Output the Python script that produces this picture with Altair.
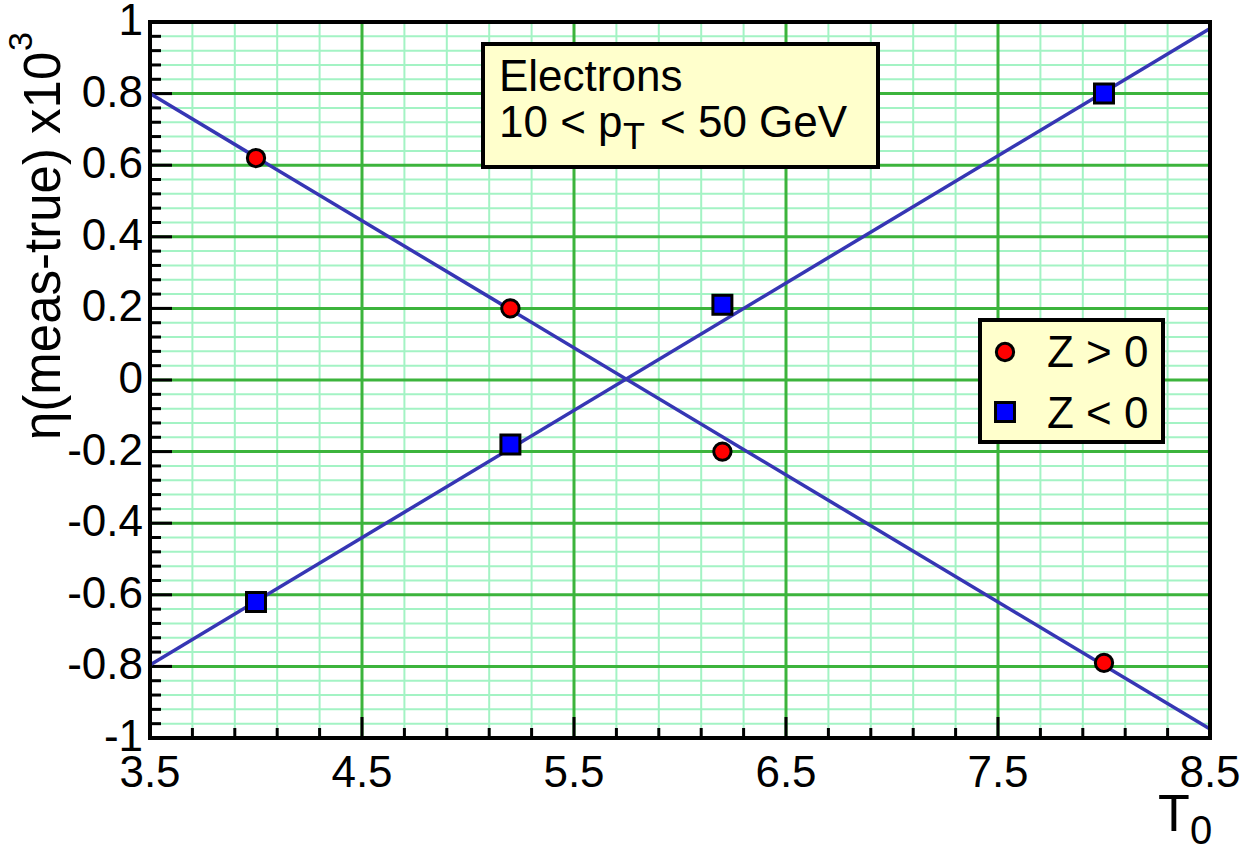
import altair as alt
import pandas as pd

FONT = "Liberation Sans"

# Measured offsets for the two z-hemispheres as a function of T0
T0 = [4.0, 5.2, 6.2, 8.0]
ETA_ZPOS = [0.62, 0.20, -0.20, -0.79]
ETA_ZNEG = [-0.62, -0.18, 0.21, 0.80]

# Straight-line fits, evaluated at the ends of the T0 range
FIT_T0 = [3.5, 8.5]
FIT_ZPOS = [0.80, -0.975]
FIT_ZNEG = [-0.796, 0.982]

X_LABELS = [3.5, 4.5, 5.5, 6.5, 7.5, 8.5]
Y_LABELS = [-1, -0.8, -0.6, -0.4, -0.2, 0, 0.2, 0.4, 0.6, 0.8, 1]

W, H = 1060, 716

MINOR_GRID = "#a3f3c4"
MAJOR_GRID = "#3cb43c"
FIT_COLOR = "#3636b4"
BOX_FILL = "#ffffcc"

# grid / tick positions
x_major = [4.5, 5.5, 6.5, 7.5]
x_minor = [round(3.5 + 0.2 * i, 2) for i in range(1, 25) if i % 5 != 0]
y_major = [-0.8, -0.6, -0.4, -0.2, 0, 0.2, 0.4, 0.6, 0.8]
y_minor = [round(-1 + 0.04 * i, 2) for i in range(1, 50) if i % 5 != 0]

xs = alt.Scale(domain=[3.5, 8.5], nice=False, zero=False)
ys = alt.Scale(domain=[-1, 1], nice=False, zero=False)

one = alt.InlineData(values=[{}])


def vals(v):
    return pd.DataFrame({"v": v, "txt": [f"{x:g}" for x in v]})


def vgrid(v, color, width):
    return alt.Chart(vals(v)).mark_rule(color=color, strokeWidth=width).encode(
        x=alt.X("v:Q", scale=xs, axis=None)
    )


def hgrid(v, color, width):
    return alt.Chart(vals(v)).mark_rule(color=color, strokeWidth=width).encode(
        y=alt.Y("v:Q", scale=ys, axis=None)
    )


def xticks(v, length):
    return alt.Chart(vals(v)).mark_rule(color="black", strokeWidth=3).encode(
        x=alt.X("v:Q", scale=xs, axis=None),
        y=alt.value(H),
        y2=alt.value(H - length),
    )


def yticks(v, length):
    return alt.Chart(vals(v)).mark_rule(color="black", strokeWidth=3).encode(
        y=alt.Y("v:Q", scale=ys, axis=None),
        x=alt.value(0),
        x2=alt.value(length),
    )


def label(text, x, y, size=44, **kw):
    return alt.Chart(one).mark_text(
        text=text, font=FONT, fontSize=size, color="black",
        align="left", baseline="alphabetic", **kw
    ).encode(x=alt.value(x), y=alt.value(y))


def box(x1, x2, y1, y2):
    return alt.Chart(one).mark_rect(
        fill=BOX_FILL, stroke="black", strokeWidth=4
    ).encode(x=alt.value(x1), x2=alt.value(x2), y=alt.value(y1), y2=alt.value(y2))


# axis tick labels
x_tick_labels = alt.Chart(vals(X_LABELS)).mark_text(
    font=FONT, fontSize=44, color="black", align="center", baseline="alphabetic"
).encode(
    x=alt.X("v:Q", scale=xs, axis=None),
    y=alt.value(H + 49),
    text="txt:N",
)
y_tick_labels = alt.Chart(vals(Y_LABELS)).mark_text(
    font=FONT, fontSize=44, color="black", align="right", baseline="middle"
).encode(
    y=alt.Y("v:Q", scale=ys, axis=None),
    x=alt.value(-7),
    text="txt:N",
)

fit_df = pd.DataFrame({
    "t0": FIT_T0 * 2,
    "eta": FIT_ZPOS + FIT_ZNEG,
    "series": ["Z > 0"] * 2 + ["Z < 0"] * 2,
})
zpos_df = pd.DataFrame({"t0": T0, "eta": ETA_ZPOS})
zneg_df = pd.DataFrame({"t0": T0, "eta": ETA_ZNEG})

fits = alt.Chart(fit_df).mark_line(color=FIT_COLOR, strokeWidth=3.5).encode(
    x=alt.X("t0:Q", scale=xs, axis=None),
    y=alt.Y("eta:Q", scale=ys, axis=None),
    detail="series:N",
)

CIRCLE = dict(shape="circle", filled=True, fill="#ff0000", stroke="black",
              strokeWidth=3, size=300, opacity=1)
SQUARE = dict(shape="square", filled=True, fill="#0000ff", stroke="black",
              strokeWidth=3, size=360, opacity=1)

circles = alt.Chart(zpos_df).mark_point(**CIRCLE).encode(
    x=alt.X("t0:Q", scale=xs, axis=None),
    y=alt.Y("eta:Q", scale=ys, axis=None),
)
squares = alt.Chart(zneg_df).mark_point(**SQUARE).encode(
    x=alt.X("t0:Q", scale=xs, axis=None),
    y=alt.Y("eta:Q", scale=ys, axis=None),
)

# text box with the selection
info = [
    box(333, 728, 22, 145),
    label("Electrons", 349, 69),
    label("10 < p", 349, 115),
    label("T", 473, 127, size=36),
    label("< 50 GeV", 510, 115),
]

# legend
legend = [
    box(830, 1013, 298, 420),
    alt.Chart(one).mark_point(**CIRCLE).encode(x=alt.value(855), y=alt.value(330)),
    alt.Chart(one).mark_point(**SQUARE).encode(x=alt.value(855), y=alt.value(390)),
    label("Z > 0", 897, 345),
    label("Z < 0", 897, 406),
]

# axis titles (y title reads bottom-to-top, exponent raised)
titles = [
    label("η(meas-true) x10", -90, 418, size=51, angle=270),
    label("3", -118, 29, size=34, angle=270),
    label("T", 1008, 809, size=52),
    label("0", 1040, 822, size=40),
]

frame = alt.Chart(one).mark_rect(
    fill=None, stroke="black", strokeWidth=4
).encode(x=alt.value(0), x2=alt.value(W), y=alt.value(0), y2=alt.value(H))

layers = [
    vgrid(x_minor, MINOR_GRID, 2),
    hgrid(y_minor, MINOR_GRID, 2),
    vgrid(x_major, MAJOR_GRID, 3),
    hgrid(y_major, MAJOR_GRID, 3),
    xticks(x_minor, 10),
    xticks(x_major, 21),
    yticks(y_minor, 11),
    yticks(y_major, 22),
    x_tick_labels,
    y_tick_labels,
    fits,
    circles,
    squares,
    *info,
    *legend,
    *titles,
    frame,
]

chart = alt.layer(*layers).properties(
    width=W,
    height=H,
    padding={"left": 150, "top": 22, "right": 42, "bottom": 114},
    autosize=alt.AutoSizeParams(type="none"),
    background="white",
).configure_view(stroke=None)

chart.save("out.html", embed_options={"renderer": "svg", "actions": False})
